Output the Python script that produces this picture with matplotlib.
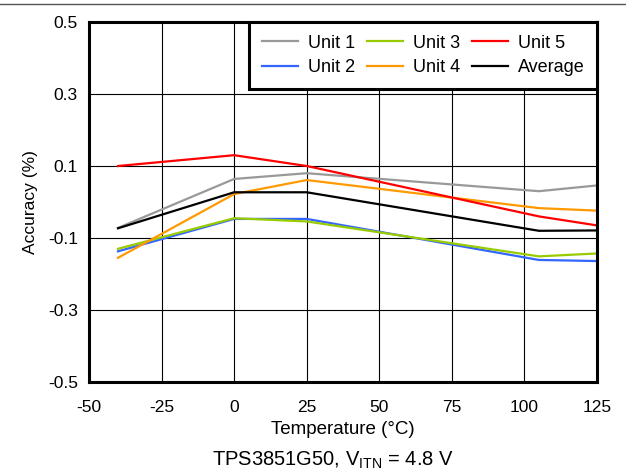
import matplotlib.pyplot as plt
from matplotlib.lines import Line2D

plt.rcParams['font.family'] = ['Liberation Sans', 'DejaVu Sans']
plt.rcParams['axes.unicode_minus'] = False

temps = [-40, 0, 25, 105, 125]
unit1 = [-0.072, 0.064, 0.080, 0.030, 0.046]
unit2 = [-0.137, -0.047, -0.047, -0.161, -0.164]
unit3 = [-0.130, -0.045, -0.054, -0.151, -0.143]
unit4 = [-0.155, 0.022, 0.061, -0.017, -0.024]
unit5 = [0.100, 0.130, 0.100, -0.040, -0.065]
average = [-0.073, 0.027, 0.027, -0.080, -0.079]

xticks = [-50, -25, 0, 25, 50, 75, 100, 125]
yticks = [-0.5, -0.3, -0.1, 0.1, 0.3, 0.5]

fig = plt.figure(figsize=(6.26, 4.72), dpi=100)
ax = fig.add_axes([89/626, 1 - 382/472, (597 - 89)/626, (382 - 22)/472])

ax.plot(temps, unit1, color='#999999', lw=1.6, label='Unit 1')
ax.plot(temps, unit2, color='#3366ff', lw=1.6, label='Unit 2')
ax.plot(temps, unit3, color='#99cc00', lw=1.6, label='Unit 3')
ax.plot(temps, unit4, color='#ff9900', lw=1.6, label='Unit 4')
ax.plot(temps, unit5, color='#ff0000', lw=1.6, label='Unit 5')
ax.plot(temps, average, color='black', lw=1.6, label='Average')

ax.set_xlim(-50, 125)
ax.set_ylim(-0.5, 0.5)
ax.set_xticks(xticks)
ax.set_yticks(yticks)
ax.set_yticklabels(['-0.5', '-0.3', '-0.1', '0.1', '0.3', '0.5'])
ax.tick_params(length=0, labelsize=12.5)
ax.tick_params(axis='x', pad=13)
ax.tick_params(axis='y', pad=8)
ax.grid(True, color='black', lw=0.8)
for s in ax.spines.values():
    s.set_linewidth(2.2)

ax.set_xlabel('Temperature (°C)', fontsize=13.5, labelpad=4)
ax.set_ylabel('Accuracy (%)', fontsize=12.5, labelpad=7)

leg = ax.legend(ncol=3, loc='upper right', borderaxespad=0, fancybox=False,
                fontsize=13, handlelength=2.0, columnspacing=0.65,
                labelspacing=0.4, borderpad=0.7, handletextpad=0.55)
leg.get_frame().set_edgecolor('black')
leg.get_frame().set_linewidth(2.2)
leg.get_frame().set_alpha(1)

fig.text(333/626, 1 - 460/472, 'TPS3851G50, V$_{\\mathregular{ITN}}$ = 4.8 V',
         ha='center', va='center', fontsize=14.5)
fig.add_artist(Line2D([0, 1], [1 - 3.5/472, 1 - 3.5/472], color='#555555', lw=1))

fig.savefig('out.png', dpi=100)
